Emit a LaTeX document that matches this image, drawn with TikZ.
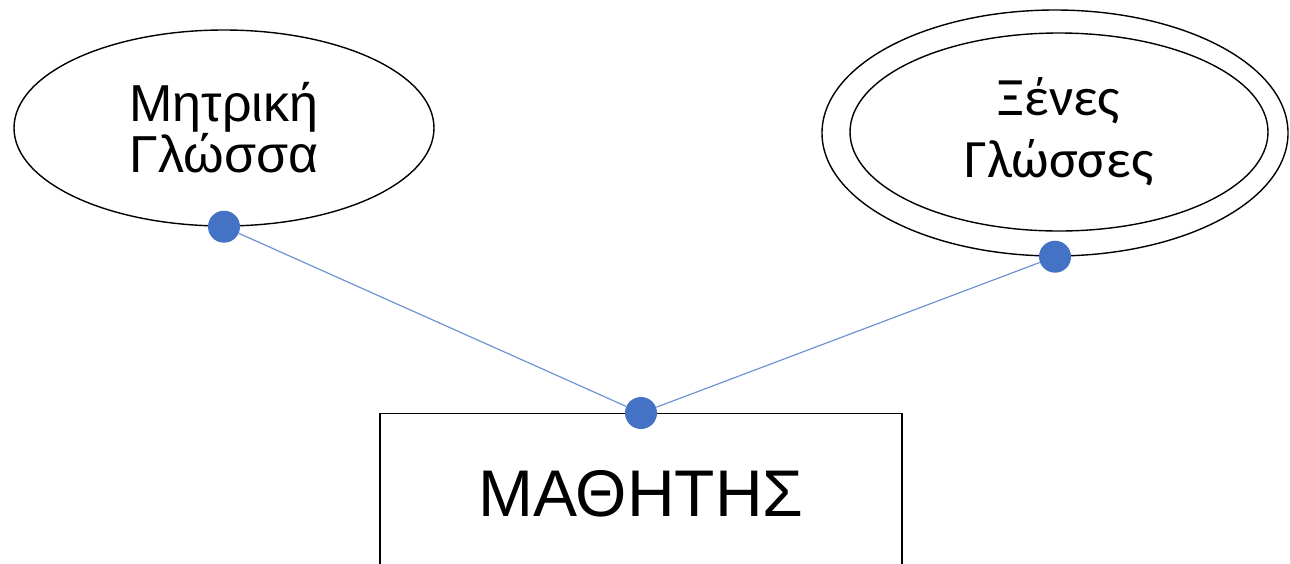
\documentclass[tikz,border=0pt]{standalone}
\usepackage{fontspec}
\setmainfont{Liberation Sans}
\newfontfamily\calfont{Carlito}
\usetikzlibrary{shapes.geometric}
\definecolor{dotblue}{HTML}{4472C4}
\definecolor{linkblue}{HTML}{6F94D2}
\tikzset{
  attr/.style={ellipse,draw=black,line width=0.7pt,inner sep=0pt,align=center},
  joint/.style={circle,fill=dotblue,inner sep=0pt,minimum size=16pt},
  link/.style={draw=linkblue,line width=0.6pt},
}

\begin{document}
\begin{tikzpicture}[x=0.5pt,y=-0.5pt]
  \clip (0,0) rectangle (1290,563);
  % entity
  \node[draw=black,line width=0.7pt,minimum width=261pt,minimum height=80pt,anchor=north,
        font=\fontsize{33}{40}\selectfont] (student) at (641,413) {ΜΑΘΗΤΗΣ};
  % attributes
  \node[attr,minimum width=210pt,minimum height=98pt,font=\fontsize{26}{25.5}\selectfont]
    (mother) at (224,128) {Μητρική\\Γλώσσα};
  \node[attr,minimum width=233pt,minimum height=123pt] (foreignout) at (1055,133) {};
  \node[attr,minimum width=209pt,minimum height=99pt,font=\calfont\fontsize{27}{31}\selectfont]
    (foreign) at (1059,132) {Ξένες\\Γλώσσες};
  % joints and links
  \node[joint] (mdot) at (mother.south) {};
  \node[joint] (fdot) at (foreignout.south) {};
  \node[joint] (sdot) at (student.north) {};
  \draw[link] (mdot) -- (sdot);
  \draw[link] (fdot) -- (sdot);
\end{tikzpicture}
\end{document}
